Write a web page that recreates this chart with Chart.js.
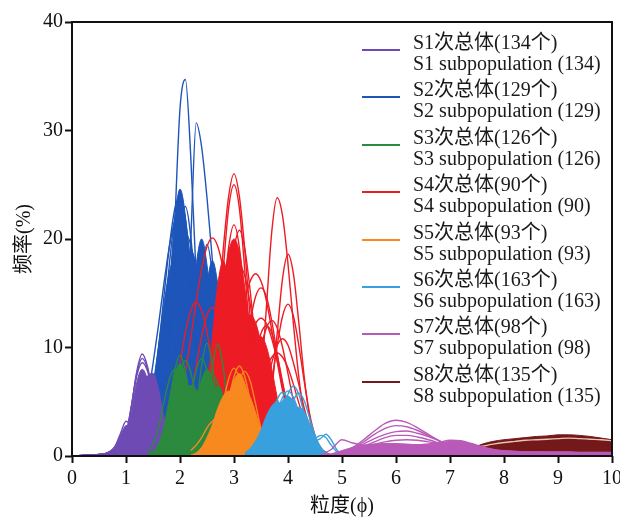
<!DOCTYPE html>
<html>
<head>
<meta charset="utf-8">
<script src="https://cdn.jsdelivr.net/npm/chart.js@4.4.1/dist/chart.umd.min.js"></script>
<style>
  body { margin: 0; background: #fff; }
  #wrap { position: relative; width: 620px; height: 519px; }
  #legend { position: absolute; left: 0; top: 0; font-family: "Liberation Serif", "Noto Sans CJK SC", serif; font-size: 20px; color: #1a1a1a; }
  .item { position: absolute; left: 362px; }
  .swatch { position: absolute; left: 0; width: 38px; height: 2px; }
  .txt { position: absolute; left: 51px; white-space: nowrap; line-height: 21px; }
</style>
</head>
<body>
<div id="wrap">
  <canvas id="chart" width="620" height="519"></canvas>
  <div id="legend"></div>
</div>
<script>
// grain-size frequency curves (%), one row per sample, on each subpopulation's phi grid
const s1Phi = [0, 0.2, 0.4, 0.6, 0.7, 0.8, 0.9, 1.0, 1.1, 1.2, 1.3, 1.4, 1.5, 1.6, 1.7, 1.8, 1.9, 2.0]
const s1Core = [
  [0, 0.05, 0.1, 0.15, 0.2, 0.3, 0.5, 1.0, 2.6, 4.6, 6.4, 7.4, 7.6, 6.2, 3.6, 1.4, 0.3, 0],
  [0, 0.05, 0.1, 0.2, 0.3, 0.5, 1.1, 2.2, 3.8, 5.4, 6.5, 6.8, 5.8, 4.0, 2.2, 0.9, 0.2, 0],
  [0, 0.05, 0.1, 0.2, 0.3, 0.5, 0.9, 1.8, 4.0, 6.8, 8.0, 7.0, 4.6, 2.4, 0.9, 0.3, 0],
  [0, 0.05, 0.1, 0.2, 0.4, 0.8, 1.8, 2.8, 2.6, 1.6, 0.7, 0.2, 0]
]
const s1Lines = [
  [0, 0.05, 0.1, 0.2, 0.3, 0.5, 0.9, 1.8, 4.5, 7.8, 9.4, 8.2, 5.5, 3.0, 1.2, 0.4, 0.1, 0],
  [0, 0.05, 0.1, 0.2, 0.3, 0.5, 0.9, 1.9, 4.6, 7.6, 9.0, 8.0, 5.6, 3.1, 1.3, 0.4, 0.1, 0],
  [0, 0.05, 0.1, 0.2, 0.3, 0.5, 1.0, 2.0, 4.6, 7.4, 8.6, 7.8, 5.6, 3.2, 1.4, 0.5, 0.1, 0],
  [0, 0.05, 0.1, 0.2, 0.3, 0.5, 0.9, 1.6, 3.0, 5.0, 6.7, 7.2, 6.0, 3.8, 1.8, 0.6, 0.1, 0],
  [0, 0.05, 0.1, 0.2, 0.3, 0.5, 0.9, 1.6, 2.8, 4.4, 5.8, 6.3, 5.5, 3.8, 2.0, 0.7, 0.2, 0],
  [0, 0.05, 0.1, 0.2, 0.4, 0.9, 2.1, 3.2, 2.7, 1.6, 0.7, 0.2, 0],
  [0, 0.05, 0.1, 0.2, 0.4, 0.9, 1.9, 2.6, 2.2, 1.4, 0.7, 0.3, 0.1, 0]
]

const s2Phi = [1.2, 1.3, 1.4, 1.5, 1.6, 1.7, 1.8, 1.9, 2.0, 2.1, 2.2, 2.3, 2.4, 2.5, 2.6, 2.7, 2.8, 2.9, 3.0, 3.1, 3.2]
const s2Core = [
  [0, 0, 0.3, 1.1, 3.3, 7.9, 15.0, 21.6, 24.6, 22.1, 16.2, 9.7, 4.7, 1.9, 0.6, 0.1, 0],
  [0.8, 1.8, 3.7, 6.5, 10.1, 13.9, 16.9, 18.0, 16.9, 13.9, 10.1, 6.5, 3.7, 1.8, 0.8, 0.3, 0],
  [0, 0, 0, 0, 0, 0, 0, 0, 2.7, 6.4, 12.2, 17.6, 20.0, 17.6, 12.2, 6.4, 2.7, 0.9, 0.2, 0],
  [0, 0, 0, 0.4, 1.1, 2.6, 5.3, 9.3, 13.9, 17.5, 19.0, 17.5, 13.9, 9.3, 5.3, 2.6, 1.1, 0.4, 0],
  [0, 0, 0, 0, 0, 0, 0, 0, 0, 0.8, 2.4, 5.8, 11.0, 15.8, 18.0, 15.8, 11.0, 5.8, 2.4, 0.8, 0]
]
const s2Lines = [
  [0, 0, 0, 0.1, 0.8, 3.4, 10.0, 21.0, 32.0, 34.7, 27.5, 16.5, 7.4, 2.4, 0.6, 0.1, 0],
  [0, 0, 0, 0, 0, 0, 0.2, 0.9, 3.2, 9.5, 20.0, 30.7, 28.5, 23.8, 18.0, 12.0, 7.0, 3.5, 1.5, 0.5, 0.1],
  [0.7, 1.6, 3.2, 6.0, 9.8, 14.6, 19.2, 22.7, 24.0, 21.6, 15.8, 9.5, 4.6, 1.8, 0.6, 0.1, 0],
  [0, 0, 0.5, 1.3, 3.1, 6.4, 11.3, 16.8, 21.2, 23.0, 20.2, 14.0, 7.4, 3.1, 1.0, 0.3, 0],
  [0, 0.4, 1.2, 2.9, 6.0, 10.5, 15.7, 19.8, 21.5, 19.8, 15.7, 10.5, 6.0, 2.9, 1.2, 0.4, 0],
  [0, 0, 0, 0, 0, 0, 0, 0, 0.4, 1.7, 4.9, 10.5, 16.7, 19.5, 16.7, 10.5, 4.9, 1.7, 0.4, 0],
  [0, 0, 0, 0.5, 1.1, 2.3, 4.3, 7.0, 10.3, 13.6, 16.1, 17.0, 16.1, 13.6, 10.3, 7.0, 4.3, 2.3, 1.1, 0.5, 0],
  [1.6, 3.0, 5.4, 8.5, 12.0, 15.8, 19.2, 21.6, 22.5, 20.0, 14.5, 8.5, 4.0, 1.5, 0.4, 0],
  [0, 0.6, 1.6, 3.7, 7.2, 12.1, 17.5, 21.8, 23.5, 21.8, 17.5, 12.1, 7.2, 3.7, 1.6, 0.6, 0],
  [0, 0, 0, 0, 0, 0, 0.4, 1.4, 3.6, 7.3, 12.2, 16.7, 18.5, 16.7, 12.2, 7.3, 3.6, 1.4, 0.4, 0],
  [0, 0.6, 1.4, 2.8, 5.1, 8.4, 12.4, 16.4, 19.4, 20.5, 19.4, 16.4, 12.4, 8.4, 5.1, 2.8, 1.4, 0.6, 0]
]

const s3Phi = [1.4, 1.5, 1.6, 1.7, 1.8, 1.9, 2.0, 2.1, 2.2, 2.3, 2.4, 2.5, 2.6, 2.7, 2.8, 2.9, 3.0, 3.1]
const s3Core = [
  [0.1, 0.4, 1.1, 2.7, 5.2, 7.5, 8.5, 7.5, 5.2, 2.7, 1.1, 0.4, 0.1, 0],
  [0, 0, 0, 0, 0, 0, 0.4, 1.1, 2.6, 4.9, 7.0, 8.0, 7.0, 4.9, 2.6, 1.1, 0.4, 0.1],
  [0.2, 0.4, 0.9, 1.6, 2.7, 3.9, 5.2, 6.1, 6.5, 6.1, 5.2, 3.9, 2.7, 1.6, 0.9, 0.4, 0.2, 0],
  [0, 0, 0, 0, 0, 0, 0, 0, 0.1, 0.55, 1.6, 3.5, 5.6, 6.5, 5.6, 3.5, 1.6, 0.55]
]
const s3Lines = [
  [0, 0.1, 0.6, 2.0, 4.7, 7.8, 9.3, 7.8, 4.7, 2.0, 0.6, 0.1, 0],
  [0, 0, 0, 0, 0, 0, 0, 0.3, 1.4, 4.3, 8.3, 10.4, 8.3, 4.3, 1.4, 0.3, 0],
  [0, 0, 0, 0, 0, 0, 0, 0, 0, 0.3, 1.4, 4.2, 8.2, 10.3, 8.2, 4.2, 1.4, 0.3],
  [0, 0, 0.4, 1.2, 2.8, 5.4, 7.7, 8.8, 7.7, 5.4, 2.8, 1.2, 0.4, 0],
  [0, 0, 0, 0, 0, 0.4, 1.2, 2.9, 5.5, 7.9, 9.0, 7.9, 5.5, 2.9, 1.2, 0.4, 0],
  [0.35, 1.1, 2.6, 4.9, 7.0, 8.0, 7.0, 4.9, 2.6, 1.1, 0.35, 0],
  [0, 0, 0, 0, 0, 0, 0, 0.3, 1.0, 2.4, 4.6, 6.6, 7.5, 6.6, 4.6, 2.4, 1.0, 0.3]
]

const s4Phi = [1.6, 1.7, 1.8, 1.9, 2.0, 2.1, 2.2, 2.3, 2.4, 2.5, 2.6, 2.7, 2.8, 2.9, 3.0, 3.1, 3.2,
  3.3, 3.4, 3.5, 3.6, 3.7, 3.8, 3.9, 4.0, 4.1, 4.2, 4.3, 4.4, 4.5, 4.6, 4.7, 4.8]
const s4Core = [
  [0, 0, 0, 0, 0, 0, 0.3, 0.9, 2.0, 4.1, 7.2, 11.3, 15.5, 18.8, 20.0, 18.8, 15.5, 11.3, 7.2, 4.1, 2.0, 0.9, 0.3, 0],
  [0, 0, 0, 0, 0, 0, 0, 0, 0, 0, 0.9, 1.8, 3.3, 5.3, 7.9, 10.4, 12.3, 13.0, 12.3, 10.4, 7.9, 5.3, 3.3, 1.8, 0.9, 0.4, 0],
  [0, 0, 0, 0, 0, 0, 0, 0.8, 2.4, 5.8, 11.0, 15.8, 18.0, 15.8, 11.0, 5.8, 2.4, 0.8, 0],
  [0, 0, 0, 0, 0, 0, 0, 0, 0, 0, 0, 0, 0, 0.6, 1.5, 3.1, 5.4, 8.0, 10.1, 11.0, 10.1, 8.0, 5.4, 3.1, 1.5, 0.6, 0.2, 0]
]
const s4Lines = [
  [0, 0, 0, 0, 0, 0, 0, 0.5, 1.5, 3.5, 7.3, 12.7, 19.0, 23.9, 26.0, 23.9, 19.0, 12.7, 7.3, 3.5, 1.5, 0.5, 0],
  [0, 0, 0, 0, 0, 0, 0, 0, 0.8, 2.4, 5.5, 10.7, 17.1, 22.8, 25.0, 22.8, 17.1, 10.7, 5.5, 2.4, 0.8, 0],
  [0, 0, 0, 0, 0, 0, 0, 0, 0.5, 1.6, 4.1, 8.4, 14.1, 19.2, 21.3, 19.2, 14.1, 8.4, 4.1, 1.6, 0.5, 0],
  [0, 0, 0, 0, 0, 0, 0, 0, 0.4, 1.2, 2.8, 5.8, 10.2, 15.2, 19.1, 20.8, 19.1, 15.2, 10.2, 5.8, 2.8, 1.2, 0.4, 0],
  [0, 0, 0, 0, 0, 0, 0, 0, 0, 0, 0, 0, 0, 0, 0, 0, 0.2, 0.7, 2.6, 6.9, 13.7, 20.7, 23.8, 22.1, 17.7, 12.2, 7.3, 3.7, 1.6, 0.6, 0.2, 0],
  [0, 0, 0, 0, 0, 0, 0, 0, 0, 0, 0, 0, 0, 0, 0, 0, 0, 0, 0.2, 0.8, 2.5, 6.0, 11.3, 16.4, 18.6, 16.8, 12.3, 7.3, 3.6, 1.4, 0.4, 0.1, 0],
  [0, 0, 0, 0, 0, 0, 0, 0, 0, 0, 0, 0, 0, 0, 0, 0, 0, 0.3, 0.8, 1.9, 3.9, 6.9, 10.2, 12.9, 14.0, 12.9, 10.2, 6.9, 3.9, 1.9, 0.8, 0.3, 0.1],
  [0, 0, 0, 0, 0, 0, 0, 0, 0, 0, 0, 0, 0, 0, 0, 0.3, 0.7, 1.5, 2.7, 4.4, 6.6, 8.6, 10.2, 10.8, 10.2, 8.6, 6.6, 4.4, 2.7, 1.5, 0.7, 0.3, 0.1],
  [0.4, 0.9, 1.7, 3.0, 5.0, 7.7, 10.9, 14.2, 17.2, 19.3, 20.1, 19.3, 17.2, 14.2, 10.9, 7.7, 5.0, 3.0, 1.7, 0.9, 0.4, 0],
  [0.9, 1.9, 3.6, 5.8, 8.6, 11.4, 13.4, 14.2, 13.4, 11.4, 8.6, 5.8, 3.6, 1.9, 0.9, 0.4, 0],
  [0, 0, 0, 0.9, 1.9, 3.4, 5.6, 8.3, 11.0, 13.0, 13.7, 13.0, 11.0, 8.3, 5.6, 3.4, 1.9, 0.9, 0.4, 0],
  [0, 0, 0, 0, 0, 0, 0, 0, 0, 0, 1.2, 2.3, 3.9, 6.0, 8.7, 11.6, 14.3, 16.1, 16.8, 16.1, 14.3, 11.6, 8.7, 6.0, 3.9, 2.3, 1.2, 0.6, 0.3, 0],
  [0, 0, 0, 0, 0, 0, 0, 0, 0, 0, 0, 0.9, 1.7, 2.9, 4.6, 6.6, 8.8, 10.8, 12.2, 12.7, 12.2, 10.8, 8.8, 6.6, 4.6, 2.9, 1.7, 0.9, 0.5, 0],
  [0, 0, 0, 0, 0, 0, 0, 0, 0, 0, 0, 0, 0, 0.5, 1.2, 2.4, 4.3, 6.8, 9.3, 11.3, 12.0, 11.3, 9.3, 6.8, 4.3, 2.4, 1.2, 0.5, 0],
  [0, 0, 0, 0, 0, 0, 0, 0, 0, 0, 0, 0.45, 1.0, 2.1, 3.9, 6.4, 9.4, 12.4, 14.7, 15.5, 14.7, 12.4, 9.4, 6.4, 3.9, 2.1, 1.0, 0.45, 0],
  [0, 0, 0, 0, 0, 0, 0, 0, 0, 0, 0, 0, 0, 0.36, 0.8, 1.7, 3.1, 5.1, 7.6, 10.0, 11.8, 12.5, 11.8, 10.0, 7.6, 5.1, 3.1, 1.7, 0.8, 0.36, 0],
  [0, 0, 0, 0, 0, 0, 0, 0, 0, 0, 0, 0, 0, 0.35, 0.7, 1.3, 2.2, 3.4, 4.9, 6.6, 8.1, 9.1, 9.5, 9.1, 8.1, 6.6, 4.9, 3.4, 2.2, 1.3, 0.7, 0.35, 0],
  [0, 0, 0, 0, 0, 0, 0, 0.5, 1.2, 2.4, 4.4, 7.2, 10.6, 14.0, 16.6, 17.5, 16.6, 14.0, 10.6, 7.2, 4.4, 2.4, 1.2, 0.5, 0],
  [0, 0, 0, 0, 0, 0.46, 1.0, 2.2, 4.0, 6.6, 9.7, 12.8, 15.1, 16.0, 15.1, 12.8, 9.7, 6.6, 4.0, 2.2, 1.0, 0.46, 0]
]

const s5Phi = [2.2, 2.3, 2.4, 2.5, 2.6, 2.7, 2.8, 2.9, 3.0, 3.1, 3.2, 3.3, 3.4, 3.5, 3.6, 3.7, 3.8]
const s5Core = [
  [0, 0, 0.15, 0.4, 1.0, 2.1, 3.7, 5.5, 7.0, 7.6, 6.7, 4.6, 2.4, 1.0, 0.3, 0.1, 0],
  [0.1, 0.3, 0.8, 1.7, 2.9, 4.4, 5.5, 6.0, 5.5, 4.4, 2.9, 1.7, 0.8, 0.3, 0.1, 0],
  [0, 0, 0, 0, 0.1, 0.5, 1.2, 2.4, 4.0, 5.4, 6.0, 5.4, 4.0, 2.4, 1.2, 0.5, 0.1]
]
const s5Lines = [
  [0, 0, 0, 0, 0.4, 1.1, 2.7, 5.1, 7.3, 8.3, 7.3, 5.1, 2.7, 1.1, 0.4, 0],
  [0, 0, 0, 0.4, 1.1, 2.6, 4.9, 7.1, 8.1, 7.1, 4.9, 2.6, 1.1, 0.4, 0],
  [0, 0, 0, 0, 0, 0.3, 1.1, 2.5, 4.8, 6.9, 7.8, 6.9, 4.8, 2.5, 1.1, 0.3, 0],
  [0.5, 1.0, 1.7, 2.6, 3.2, 3.5, 3.2, 2.6, 1.7, 1.0, 0.5, 0.2, 0],
  [0, 0, 0, 0.4, 1.0, 2.0, 3.4, 5.1, 6.4, 7.0, 6.4, 5.1, 3.4, 2.0, 1.0, 0.4, 0]
]

const s6Phi = [3.2, 3.3, 3.4, 3.5, 3.6, 3.7, 3.8, 3.9, 4.0, 4.1, 4.2, 4.3, 4.4, 4.5, 4.6, 4.7, 4.8, 4.9, 5.0]
const s6Core = [
  [0, 0.2, 0.5, 1.0, 1.8, 3.0, 4.2, 5.1, 5.5, 5.1, 4.2, 3.0, 1.8, 1.0, 0.5, 0.2, 0],
  [0.3, 0.7, 1.4, 2.4, 3.7, 4.6, 5.0, 4.6, 3.7, 2.4, 1.4, 0.7, 0.3, 0.1, 0],
  [0, 0, 0, 0, 0.1, 0.3, 0.9, 1.8, 3.0, 4.1, 4.5, 4.1, 3.0, 1.8, 0.9, 0.3, 0.1, 0]
]
const s6Lines = [
  [0, 0, 0, 0, 0.3, 0.9, 2.1, 3.9, 5.7, 6.45, 5.7, 3.9, 2.1, 0.9, 0.3, 0],
  [0, 0, 0.3, 0.8, 1.9, 3.6, 5.2, 5.9, 5.2, 3.6, 1.9, 0.8, 0.3, 0],
  [0, 0.1, 0.4, 1.3, 2.7, 4.3, 5.0, 4.3, 2.7, 1.3, 0.4, 0.1, 0],
  [0, 0, 0, 0, 0, 0.3, 0.8, 1.9, 3.5, 5.1, 5.8, 5.1, 3.5, 1.9, 0.8, 0.3, 0],
  [0, 0, 0, 0, 0.5, 1.2, 2.4, 3.6, 4.2, 3.9, 3.0, 2.0, 1.5, 1.6, 1.9, 1.7, 1.0, 0.4, 0.1],
  [0, 0, 0, 0, 0, 0, 0.5, 1.2, 2.2, 3.0, 3.1, 2.5, 1.7, 1.4, 1.6, 2.0, 1.5, 0.6, 0.1],
  [0, 0, 0, 0.5, 1.2, 2.4, 4.0, 5.4, 6.0, 5.4, 4.0, 2.4, 1.2, 0.5, 0]
]

const s7Phi = [4.6, 4.8, 5.0, 5.2, 5.4, 5.6, 5.8, 6.0, 6.2, 6.4, 6.6, 6.8, 7.0, 7.2,
  7.4, 7.6, 7.8, 8.0, 8.2, 8.4, 8.6, 8.8, 9.0, 9.2, 9.4, 9.6, 9.8, 10.0]
const s7Core = [
  [0, 0.2, 0.5, 0.8, 1.0, 1.1, 1.15, 1.15, 1.1, 1.05, 1.05, 1.15, 1.35, 1.35,
    1.1, 0.8, 0.6, 0.5, 0.45, 0.4, 0.4, 0.4, 0.4, 0.4, 0.35, 0.35, 0.35, 0.35]
]
const s7Lines = [
  [0, 0.1, 0.3, 0.8, 1.5, 2.3, 3.0, 3.3, 3.1, 2.6, 2.0, 1.4, 0.9, 0.5, 0.3, 0.2, 0.1, 0],
  [0, 0.1, 0.3, 0.7, 1.3, 2.0, 2.55, 2.8, 2.7, 2.35, 1.9, 1.4, 0.9, 0.5, 0.3, 0.2, 0.1, 0],
  [0, 0.1, 0.3, 0.6, 1.1, 1.6, 2.0, 2.25, 2.3, 2.1, 1.8, 1.4, 1.0, 0.6, 0.4, 0.2, 0.1, 0],
  [0, 0.1, 0.3, 0.6, 0.9, 1.3, 1.7, 1.9, 1.9, 1.75, 1.5, 1.2, 0.9, 0.6, 0.4, 0.2, 0.1, 0],
  [0, 0.1, 0.3, 0.6, 0.9, 1.1, 1.3, 1.45, 1.5, 1.45, 1.3, 1.15, 0.95, 0.7, 0.5, 0.3, 0.2, 0],
  [0.1, 0.6, 1.5, 1.2, 1.0, 0.9, 0.8, 0.7, 0.6, 0.5, 0.4, 0.3, 0.2, 0.1, 0],
  [0, 0, 0.1, 0.3, 0.5, 0.7, 0.8, 0.9, 0.95, 1.0, 1.1, 1.25, 1.45, 1.4,
    1.15, 0.85, 0.6, 0.45, 0.4, 0.35, 0.35, 0.3, 0.3, 0.3, 0.3, 0.3, 0.3, 0.3]
]

const s8Phi = [7.0, 7.2, 7.4, 7.6, 7.8, 8.0, 8.2, 8.4, 8.6, 8.8, 9.0, 9.2, 9.4, 9.6, 9.8, 10.0]
const s8Core = [
  [0.1, 0.3, 0.7, 1.1, 1.35, 1.5, 1.6, 1.7, 1.8, 1.85, 1.95, 1.95, 1.9, 1.8, 1.65, 1.5]
]
const s8Lines = [
  [0.1, 0.3, 0.6, 0.9, 1.1, 1.25, 1.35, 1.45, 1.5, 1.55, 1.6, 1.65, 1.6, 1.55, 1.5, 1.4]
]

const sampleCounts = [134, 129, 126, 90, 93, 163, 98, 135]
const groupColors = ['#6e4bb4', '#1e55b9', '#2b8a3e', '#ed1c24', '#f7891e', '#39a0de', '#b95ab9', '#731919']

const serif = "'Liberation Serif', 'Noto Sans CJK SC', serif"

function curveSets(phi, rows, color, filled) {
  return rows.map(row => ({
    data: row.map((v, i) => ({ x: phi[i], y: v })),
    borderColor: color,
    backgroundColor: color,
    borderWidth: filled ? 1 : 1.4,
    fill: filled ? 'origin' : false,
    pointRadius: 0,
    cubicInterpolationMode: 'monotone'
  }))
}

// stacked bottom to top; Chart.js paints the first dataset last, so reverse at the end
const stack = [
  [s2Phi, s2Core, s2Lines, 1],
  [s4Phi, s4Core, s4Lines, 3],
  [s1Phi, s1Core, s1Lines, 0],
  [s3Phi, s3Core, s3Lines, 2],
  [s5Phi, s5Core, s5Lines, 4],
  [s6Phi, s6Core, s6Lines, 5],
  [s8Phi, s8Core, s8Lines, 7],
  [s7Phi, s7Core, s7Lines, 6]
]
let datasets = []
stack.forEach(([phi, core, lines, g]) => {
  datasets = datasets.concat(curveSets(phi, core, groupColors[g], true))
  const lineColor = g === 7 ? '#e9c3b8' : groupColors[g]
  datasets = datasets.concat(curveSets(phi, lines, lineColor, false))
})
datasets.reverse()

const frame = {
  id: 'frame',
  afterDatasetsDraw(chart) {
    const { ctx, chartArea: a } = chart
    ctx.save()
    ctx.strokeStyle = '#111'
    ctx.lineWidth = 2
    ctx.strokeRect(a.left, a.top, a.right - a.left, a.bottom - a.top)
    ctx.restore()
  }
}

const tickFont = { family: serif, size: 20 }

new Chart(document.getElementById('chart'), {
  type: 'line',
  data: { datasets },
  plugins: [frame],
  options: {
    responsive: false,
    animation: false,
    events: [],
    layout: { padding: { top: 22, right: 8, left: 0, bottom: 0 } },
    plugins: { legend: { display: false }, tooltip: { enabled: false } },
    scales: {
      x: {
        type: 'linear', min: 0, max: 10,
        ticks: { stepSize: 1, color: '#111', font: tickFont, padding: 4, maxRotation: 0 },
        grid: { drawOnChartArea: false, tickLength: 7, tickWidth: 2, tickColor: '#111' },
        border: { display: false },
        title: { display: true, text: '粒度(ϕ)', color: '#111', font: tickFont, padding: { top: 0, bottom: 0 } },
        afterFit(scale) {
          scale.height = 63
          scale.paddingRight = 0
        }
      },
      y: {
        min: 0, max: 40,
        ticks: { stepSize: 10, color: '#111', font: tickFont, padding: 2 },
        grid: { drawOnChartArea: false, tickLength: 7, tickWidth: 2, tickColor: '#111' },
        border: { display: false },
        title: { display: true, text: '频率(%)', color: '#111', font: tickFont, padding: { top: 13, bottom: 0 } },
        afterFit(scale) { scale.width = 72 }
      }
    }
  }
})

// two-line legend, Chinese label above the English one
const legend = document.getElementById('legend')
sampleCounts.forEach((n, i) => {
  const item = document.createElement('div')
  item.className = 'item'
  item.style.top = (32 + i * 47.4) + 'px'
  item.innerHTML =
    '<div class="swatch" style="top:17px;background:' + groupColors[i] + '"></div>' +
    '<div class="txt">S' + (i + 1) + '次总体(' + n + '个)<br>S' + (i + 1) + ' subpopulation (' + n + ')</div>'
  legend.appendChild(item)
})
</script>
</body>
</html>
